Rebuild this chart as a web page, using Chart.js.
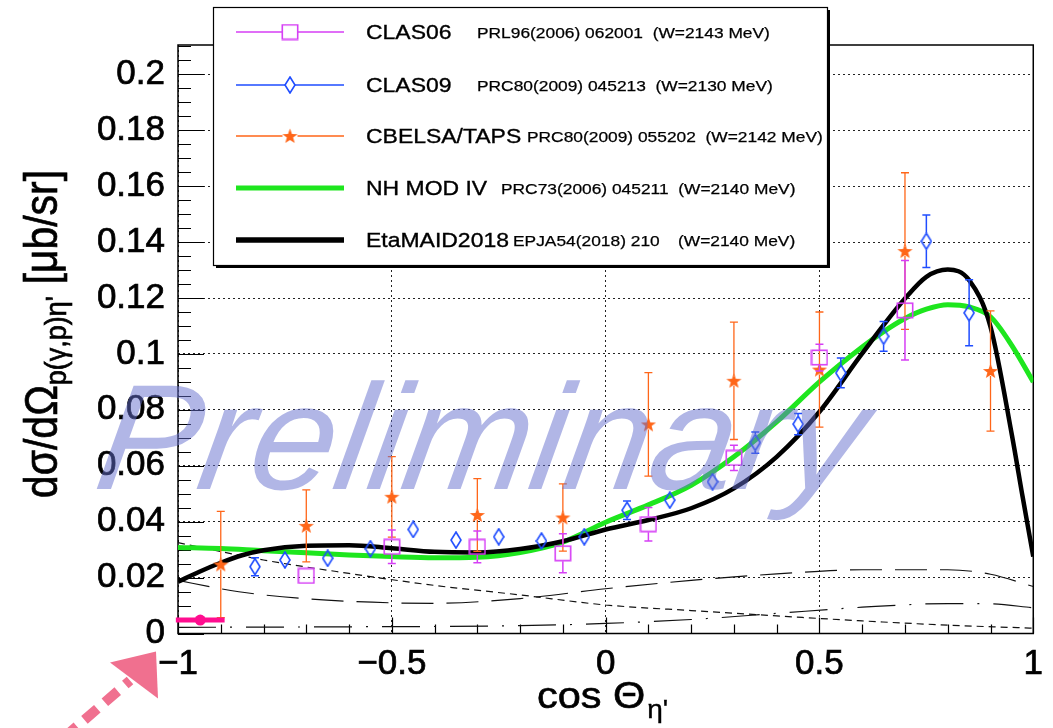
<!DOCTYPE html>
<html>
<head>
<meta charset="utf-8">
<title>eta' photoproduction cross section</title>
<script src="https://cdn.jsdelivr.net/npm/chart.js@4.4.1/dist/chart.umd.min.js"></script>
<style>
html,body{margin:0;padding:0;background:#ffffff;overflow:hidden;}
canvas{display:block;}
</style>
</head>
<body>
<canvas id="chart" width="1053" height="728"></canvas>
<script>
// ---------------- data ----------------
const xTickValues = [-1, -0.5, 0, 0.5, 1];
const xTickLabels = ['\u22121', '\u22120.5', '0', '0.5', '1'];
const yTickValues = [0, 0.02, 0.04, 0.06, 0.08, 0.1, 0.12, 0.14, 0.16, 0.18, 0.2];
const yTickLabels = ['0', '0.02', '0.04', '0.06', '0.08', '0.1', '0.12', '0.14', '0.16', '0.18', '0.2'];

// CLAS06 (open squares)
const clas06X   = [-0.7, -0.5, -0.3, -0.1, 0.1, 0.3, 0.5, 0.7];
const clas06Y   = [0.0206, 0.0310, 0.0310, 0.0287, 0.0391, 0.0628, 0.0987, 0.1156];
const clas06Err = [0.0015, 0.0060, 0.0057, 0.0070, 0.0060, 0.0045, 0.0048, 0.0178];

// CLAS09 (open diamonds)
const clas09X   = [-0.82, -0.75, -0.65, -0.55, -0.45, -0.35, -0.25, -0.15, -0.05, 0.05, 0.15, 0.25, 0.35, 0.45, 0.55, 0.65, 0.75, 0.85];
const clas09Y   = [0.0239, 0.0263, 0.0269, 0.0303, 0.0372, 0.0334, 0.0346, 0.0331, 0.0346, 0.0441, 0.0477, 0.0543, 0.0683, 0.0749, 0.0932, 0.1063, 0.1403, 0.1147];
const clas09Err = [0.0032, 0.0015, 0.0012, 0.0022, 0.0015, 0.0015, 0.0015, 0.0015, 0.0020, 0.0033, 0.0025, 0.0027, 0.0038, 0.0038, 0.0053, 0.0053, 0.0094, 0.0118];

// CBELSA/TAPS (filled stars)
const cbelsaX   = [-0.9, -0.7, -0.5, -0.3, -0.1, 0.1, 0.3, 0.5, 0.7, 0.9];
const cbelsaY   = [0.0247, 0.0385, 0.0489, 0.0424, 0.0415, 0.0748, 0.0904, 0.0944, 0.1368, 0.0939];
const cbelsaErr = [0.0190, 0.0129, 0.0144, 0.0130, 0.0120, 0.0185, 0.0210, 0.0206, 0.0280, 0.0215];

// NH MOD IV (green curve)
const nhX = [-1, -0.9, -0.8, -0.7, -0.6, -0.5, -0.4, -0.3, -0.2, -0.1, 0, 0.1, 0.2, 0.3, 0.4, 0.5, 0.6, 0.65, 0.7, 0.75, 0.8, 0.85, 0.9, 0.95, 1];
const nhY = [0.0308, 0.0304, 0.0296, 0.0289, 0.0281, 0.0275, 0.0271, 0.0273, 0.0290, 0.0327, 0.0398, 0.0460, 0.0530, 0.0632, 0.0757, 0.0900, 0.1025, 0.1080, 0.1127, 0.1160, 0.1176, 0.1168, 0.1133, 0.1030, 0.0900];

// EtaMAID2018 (black curve)
const maidX = [-1, -0.95, -0.9, -0.85, -0.8, -0.7, -0.6, -0.5, -0.4, -0.3, -0.2, -0.1, 0, 0.1, 0.2, 0.3, 0.4, 0.5, 0.6, 0.7, 0.75, 0.8, 0.85, 0.9, 0.95, 0.975, 1];
const maidY = [0.0185, 0.0221, 0.0253, 0.0280, 0.0298, 0.0314, 0.0316, 0.0305, 0.0292, 0.0290, 0.0302, 0.0330, 0.0372, 0.0406, 0.0448, 0.0519, 0.0632, 0.0793, 0.1002, 0.1198, 0.1276, 0.1302, 0.1264, 0.1097, 0.0710, 0.0490, 0.0275];

// thin model components
const longDashX = [-1, -0.9, -0.8, -0.6, -0.4, -0.2, 0, 0.2, 0.4, 0.6, 0.8, 0.9, 1];
const longDashY = [0.0190, 0.0160, 0.0138, 0.0115, 0.0108, 0.0125, 0.0160, 0.0190, 0.0213, 0.0228, 0.0228, 0.0212, 0.0168];
const shortDashX = [-1, -0.8, -0.6, -0.4, -0.2, 0, 0.2, 0.4, 0.6, 0.8, 1];
const shortDashY = [0.0325, 0.0263, 0.0215, 0.0172, 0.0138, 0.0102, 0.0082, 0.0063, 0.0045, 0.0030, 0.0019];
const dashDotX = [-1, -0.6, -0.2, 0, 0.2, 0.4, 0.6, 0.8, 0.9, 1];
const dashDotY = [0.0022, 0.0024, 0.0028, 0.0036, 0.0050, 0.0072, 0.0094, 0.0107, 0.0106, 0.0092];

// threshold marker (pink)
const pinkX = [-0.948];
const pinkY = [0.0048];
const pinkXErr = [0.057];

// legend texts
const legendNames = ['CLAS06', 'CLAS09', 'CBELSA/TAPS', 'NH MOD IV', 'EtaMAID2018'];
const legendRefs = ['PRL96(2006) 062001  (W=2143 MeV)', 'PRC80(2009) 045213  (W=2130 MeV)', 'PRC80(2009) 055202  (W=2142 MeV)', 'PRC73(2006) 045211  (W=2140 MeV)', 'EPJA54(2018) 210'];
const legendRefExtra = ['', '', '', '', '(W=2140 MeV)'];
const watermarkText = 'Preliminary';

// ---------------- styles ----------------
const COL = {
  clas06: '#d63ff5', clas09: '#1f4dff', cbelsa: '#ff6619',
  nh: '#1ee61e', maid: '#000000', pink: '#ff0d8f', arrow: '#f0708f'
};
const FONT = "'Liberation Sans', Arial, Helvetica, sans-serif";
const STRETCH = 1.12;

const pts = (xs, ys) => xs.map((x, i) => ({ x: x, y: ys[i] }));

function makeCanvas(w, h, fn) {
  const c = document.createElement('canvas'); c.width = w; c.height = h;
  fn(c.getContext('2d')); return c;
}
const markSquare = makeCanvas(18, 17, g => {
  g.strokeStyle = COL.clas06; g.lineWidth = 1.6; g.strokeRect(1.3, 1.3, 15.4, 14.4);
});
const markDiamond = makeCanvas(12, 18, g => {
  g.strokeStyle = COL.clas09; g.lineWidth = 1.6; g.beginPath();
  g.moveTo(6, 1); g.lineTo(11, 9); g.lineTo(6, 17); g.lineTo(1, 9); g.closePath(); g.stroke();
});
const markStar = makeCanvas(17, 16, g => {
  g.fillStyle = COL.cbelsa; g.beginPath();
  for (let k = 0; k < 10; k++) {
    const r = k % 2 === 0 ? 8 : 3.3;
    const a = -Math.PI / 2 + k * Math.PI / 5;
    const px = 8.5 + r * Math.cos(a), py = 8.6 + r * Math.sin(a);
    if (k === 0) g.moveTo(px, py); else g.lineTo(px, py);
  }
  g.closePath(); g.fill();
});

// ---------------- plugins ----------------
function sText(ctx, text, x, y, size, strokeW) {
  ctx.save();
  ctx.font = size + 'px ' + FONT;
  ctx.textBaseline = 'alphabetic'; ctx.textAlign = 'left';
  ctx.translate(x, y); ctx.scale(STRETCH, 1);
  ctx.fillText(text, 0, 0);
  if (strokeW) { ctx.lineWidth = strokeW; ctx.strokeStyle = ctx.fillStyle; ctx.strokeText(text, 0, 0); }
  const w = ctx.measureText(text).width * STRETCH;
  ctx.restore();
  return w;
}

const framePlugin = {
  id: 'frame',
  beforeDraw(chart) {
    const c = chart.ctx; c.save(); c.fillStyle = '#fff'; c.fillRect(0, 0, chart.width, chart.height); c.restore();
  },
  beforeDatasetsDraw(chart) {
    const ctx = chart.ctx, a = chart.chartArea, xs = chart.scales.x, ys = chart.scales.y;
    ctx.save();
    ctx.strokeStyle = '#000'; ctx.lineWidth = 1.2;
    ctx.beginPath();
    for (let i = 0; i <= 42; i++) {
      const v = i * 0.005; const py = Math.round(ys.getPixelForValue(v)) + 0.5;
      if (py < a.top) break;
      const len = (i % 4 === 0) ? 26 : 13;
      ctx.moveTo(a.left, py); ctx.lineTo(a.left + len, py);
    }
    for (let i = 0; i <= 20; i++) {
      const v = -1 + i * 0.1; const px = Math.round(xs.getPixelForValue(v)) + 0.5;
      const len = (i % 5 === 0) ? 16 : 9;
      ctx.moveTo(px, a.bottom); ctx.lineTo(px, a.bottom - len);
    }
    ctx.stroke();
    ctx.lineWidth = 1.5;
    ctx.strokeRect(a.left, a.top, a.right - a.left, a.bottom - a.top);
    ctx.restore();
  }
};

const errorBarPlugin = {
  id: 'errbars',
  afterDatasetDraw(chart, args) {
    const ds = chart.data.datasets[args.index];
    if (!ds.yErr && !ds.xErr) return;
    const ctx = chart.ctx, xs = chart.scales.x, ys = chart.scales.y;
    ctx.save();
    ctx.strokeStyle = ds.errColor; ctx.lineWidth = ds.errWidth;
    const g = ds.errGap || 0, cap = 4;
    ds.data.forEach((p, i) => {
      const px = xs.getPixelForValue(p.x), py = ys.getPixelForValue(p.y);
      ctx.beginPath();
      if (ds.yErr) {
        const top = ys.getPixelForValue(p.y + ds.yErr[i]);
        const bot = ys.getPixelForValue(p.y - ds.yErr[i]);
        if (py - top > g) {
          ctx.moveTo(px, py - g); ctx.lineTo(px, top);
          ctx.moveTo(px - cap, top); ctx.lineTo(px + cap, top);
        }
        if (bot - py > g) {
          ctx.moveTo(px, py + g); ctx.lineTo(px, bot);
          ctx.moveTo(px - cap, bot); ctx.lineTo(px + cap, bot);
        }
      }
      if (ds.xErr) {
        const l = xs.getPixelForValue(p.x - ds.xErr[i]);
        const r = xs.getPixelForValue(p.x + ds.xErr[i]);
        ctx.moveTo(l, py); ctx.lineTo(r, py);
      }
      ctx.stroke();
    });
    ctx.restore();
  }
};

const decorPlugin = {
  id: 'decor',
  afterDatasetsDraw(chart) {
    // watermark
    const ctx = chart.ctx;
    ctx.save();
    ctx.fillStyle = 'rgba(100,110,205,0.5)';
    ctx.font = 'italic 150px ' + FONT;
    const w = ctx.measureText(watermarkText).width;
    ctx.translate(92, 489);
    ctx.transform(1, 0, -0.16, 1, 0, 0);
    ctx.scale(765 / w, 1);
    ctx.fillText(watermarkText, 0, 0);
    ctx.restore();
  },
  afterDraw(chart) {
    const ctx = chart.ctx, a = chart.chartArea;
    ctx.save();
    ctx.fillStyle = '#000';
    // x axis title
    let x0 = 537;
    x0 += sText(ctx, 'cos \u0398', x0, 708, 37, 0.6);
    sText(ctx, "\u03b7'", x0 + 2, 718, 25, 0.4);

    // y axis title (rotated)
    ctx.save();
    const parts = [['d\u03c3/d\u03a9', 41, 0], ["p(\u03b3,p)\u03b7'", 27, 9], [' [\u03bcb/sr]', 41, 0]];
    let total = 0;
    parts.forEach(p => { ctx.font = p[1] + 'px ' + FONT; total += ctx.measureText(p[0]).width; });
    ctx.translate(57, 334 + total / 2);
    ctx.rotate(-Math.PI / 2);
    ctx.scale(1, STRETCH);
    ctx.strokeStyle = '#000'; ctx.lineWidth = 0.6;
    let t = 0;
    parts.forEach(p => {
      ctx.font = p[1] + 'px ' + FONT;
      ctx.fillText(p[0], t, p[2] / STRETCH);
      ctx.strokeText(p[0], t, p[2] / STRETCH);
      t += ctx.measureText(p[0]).width;
    });
    ctx.restore();

    // legend box
    const L = { left: 213, top: 7, right: 827, bottom: 265, rows: [32, 85, 136, 188, 240], x0: 236, x1: 344, mx: 290, nameX: 366, refX: [477, 477, 527, 501, 513], extraX: 678 };
    ctx.fillStyle = '#000';
    ctx.fillRect(L.left + 3, L.top + 3, L.right - L.left, L.bottom - L.top);
    ctx.fillStyle = '#fff';
    ctx.fillRect(L.left, L.top, L.right - L.left, L.bottom - L.top);
    ctx.strokeStyle = '#000'; ctx.lineWidth = 1.2;
    ctx.strokeRect(L.left + 0.5, L.top + 0.5, L.right - L.left, L.bottom - L.top);

    const marks = [markSquare, markDiamond, markStar, null, null];
    const cols = [COL.clas06, COL.clas09, COL.cbelsa, COL.nh, COL.maid];
    const widths = [1.5, 1.5, 1.5, 5, 5.5];
    L.rows.forEach((ry, i) => {
      ctx.strokeStyle = cols[i]; ctx.lineWidth = widths[i];
      ctx.beginPath();
      const m = marks[i];
      if (m) {
        ctx.moveTo(L.x0, ry); ctx.lineTo(L.mx - m.width / 2 + 1, ry);
        ctx.moveTo(L.mx + m.width / 2 - 1, ry); ctx.lineTo(L.x1, ry);
      } else {
        ctx.moveTo(L.x0, ry); ctx.lineTo(L.x1, ry);
      }
      ctx.stroke();
      if (m) ctx.drawImage(m, L.mx - m.width / 2, ry - m.height / 2);
      ctx.fillStyle = '#000';
      sText(ctx, legendNames[i], L.nameX, ry + 7.3, 20.5, 0.35);
      sText(ctx, legendRefs[i], L.refX[i], ry + 5.6, 15.5, 0.25);
      if (legendRefExtra[i]) sText(ctx, legendRefExtra[i], L.extraX, ry + 5.6, 15.5, 0.25);
    });

    // arrow pointing at the (-1, 0) corner
    const tipX = a.left - 22, tipY = a.bottom + 18;
    ctx.strokeStyle = COL.arrow; ctx.fillStyle = COL.arrow;
    ctx.lineWidth = 10; ctx.lineCap = 'butt';
    ctx.setLineDash([17, 10]);
    ctx.beginPath();
    ctx.moveTo(tipX - 92, tipY + 86); ctx.lineTo(tipX - 26, tipY + 29);
    ctx.stroke();
    ctx.setLineDash([]);
    ctx.beginPath();
    ctx.moveTo(tipX, tipY); ctx.lineTo(tipX - 46, tipY + 11); ctx.lineTo(tipX + 2, tipY + 47);
    ctx.closePath(); ctx.fill();
    ctx.restore();
  }
};

// ---------------- chart ----------------
const curveCommon = { showLine: true, pointRadius: 0, fill: false, cubicInterpolationMode: 'monotone' };
const datasets = [
  { label: 'threshold', data: pts(pinkX, pinkY), pointStyle: 'circle', pointRadius: 5.5,
    pointBackgroundColor: COL.pink, pointBorderColor: COL.pink, pointBorderWidth: 0,
    xErr: pinkXErr, errColor: COL.pink, errWidth: 5, clip: false },
  { label: 'CLAS06', data: pts(clas06X, clas06Y), pointStyle: markSquare, pointRadius: 8,
    yErr: clas06Err, errColor: COL.clas06, errWidth: 1.5, errGap: 8 },
  { label: 'CLAS09', data: pts(clas09X, clas09Y), pointStyle: markDiamond, pointRadius: 8,
    yErr: clas09Err, errColor: COL.clas09, errWidth: 1.5, errGap: 8.5 },
  { label: 'CBELSA/TAPS', data: pts(cbelsaX, cbelsaY), pointStyle: markStar, pointRadius: 8,
    yErr: cbelsaErr, errColor: COL.cbelsa, errWidth: 1.3, errGap: 5 },
  Object.assign({ label: 'EtaMAID2018', data: pts(maidX, maidY), borderColor: COL.maid, borderWidth: 4.5 }, curveCommon),
  Object.assign({ label: 'NH MOD IV', data: pts(nhX, nhY), borderColor: COL.nh, borderWidth: 5 }, curveCommon),
  Object.assign({ label: 'comp long dash', data: pts(longDashX, longDashY), borderColor: '#111',
    borderWidth: 1.2, borderDash: [32, 13] }, curveCommon),
  Object.assign({ label: 'comp short dash', data: pts(shortDashX, shortDashY), borderColor: '#111',
    borderWidth: 1.2, borderDash: [7, 5] }, curveCommon),
  Object.assign({ label: 'comp dash dot', data: pts(dashDotX, dashDotY), borderColor: '#111',
    borderWidth: 1.2, borderDash: [38, 14, 2, 14] }, curveCommon)
];

new Chart(document.getElementById('chart'), {
  type: 'scatter',
  data: { datasets: datasets },
  plugins: [framePlugin, errorBarPlugin, decorPlugin],
  options: {
    responsive: false, animation: false, devicePixelRatio: 1,
    layout: { padding: { top: 45, right: 18, left: 0, bottom: 0 } },
    plugins: { legend: { display: false }, tooltip: { enabled: false } },
    scales: {
      x: {
        type: 'linear', min: -1, max: 1,
        afterBuildTicks: s => { s.ticks = xTickValues.map(v => ({ value: v })); },
        afterFit: s => { s.height = 94.5; },
        ticks: { callback: (v, i) => xTickLabels[i], color: '#000', padding: 10,
                 textStrokeColor: '#000', textStrokeWidth: 0.7,
                 font: { family: FONT, size: 35 }, maxRotation: 0, autoSkip: false },
        grid: { color: '#222', lineWidth: 1, drawTicks: false },
        border: { display: false, dash: [2, 3] }
      },
      y: {
        type: 'linear', min: 0, max: 0.2105,
        afterBuildTicks: s => { s.ticks = yTickValues.map(v => ({ value: v })); },
        afterFit: s => { s.width = 178; },
        ticks: { callback: (v, i) => yTickLabels[i], color: '#000', padding: 13,
                 textStrokeColor: '#000', textStrokeWidth: 0.7,
                 font: { family: FONT, size: 35 }, autoSkip: false },
        grid: { color: '#222', lineWidth: 1, drawTicks: false },
        border: { display: false, dash: [2, 3] }
      }
    }
  }
});
</script>
</body>
</html>
